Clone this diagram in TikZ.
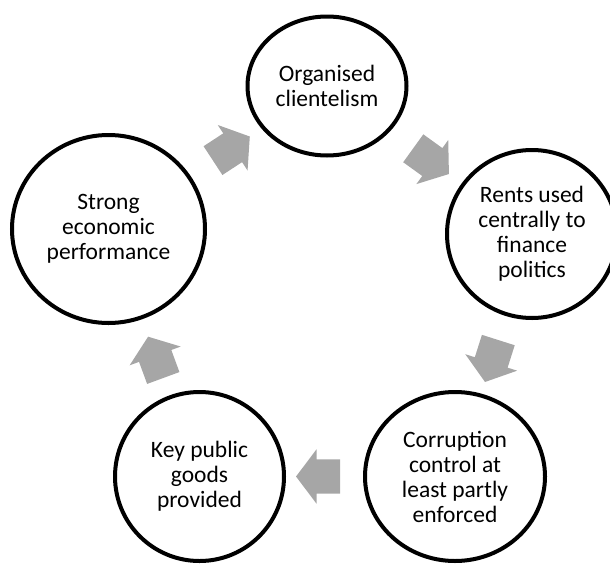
\documentclass[tikz,border=0pt]{standalone}
\usepackage{fontspec}
\setmainfont{Carlito}
\usetikzlibrary{shapes.geometric,shapes.arrows}
\definecolor{arrowgray}{RGB}{166,166,166}

\begin{document}
\begin{tikzpicture}[x=1pt, y=-1pt, stage/.style={ellipse, draw, line width=4pt, inner sep=0pt, align=center, font=\fontsize{23.5}{25}\selectfont}, cyclearrow/.style={single arrow, fill=arrowgray, draw=none, inner xsep=0pt, inner ysep=17pt, minimum height=44pt, single arrow head extend=10pt, single arrow tip angle=106, sloped, allow upside down}]

    \useasboundingbox (0,0) rectangle (610,565);

    \node[stage, minimum width=159pt, minimum height=139pt] (clientelism) at (327,86) {Organised\\clientelism};
    \node[stage, minimum width=170pt, minimum height=168pt] (rents) at (532,234) {Rents used\\centrally to\\finance\\politics};
    \node[stage, minimum width=180pt, minimum height=169pt] (corruption) at (455,476.5) {Corruption\\control at\\least partly\\enforced};
    \node[stage, minimum width=169pt, minimum height=169pt] (goods) at (199.5,476.5) {Key public\\goods\\provided};
    \node[stage, minimum width=193pt, minimum height=188pt] (economy) at (108.5,229) {Strong\\economic\\performance};

    \path (clientelism) -- node[cyclearrow] {} (rents);
    \path (rents) -- node[cyclearrow] {} (corruption);
    \path (corruption) -- node[cyclearrow] {} (goods);
    \path (goods) -- node[cyclearrow, pos=0.42] {} (economy);
    \path (economy) -- node[cyclearrow] {} (clientelism);

\end{tikzpicture}
\end{document}
